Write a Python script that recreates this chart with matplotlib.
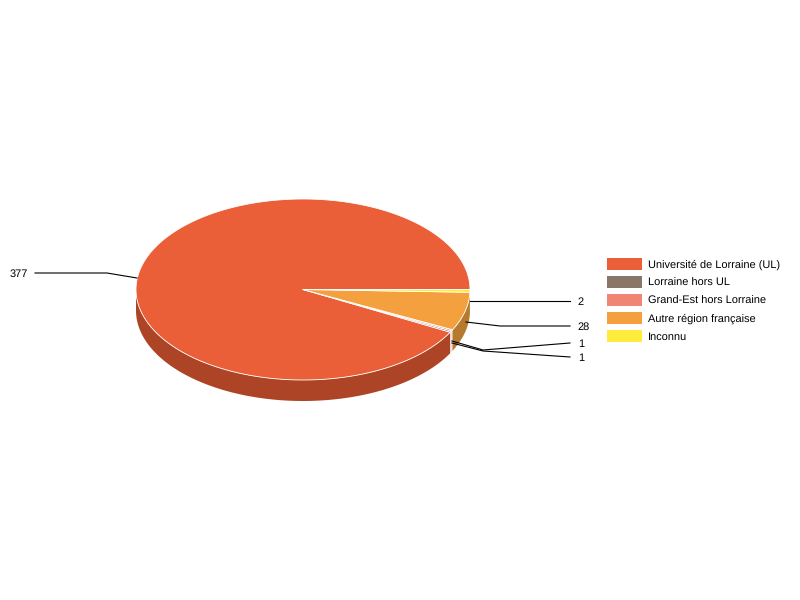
import numpy as np
import matplotlib
matplotlib.use("Agg")
import matplotlib.pyplot as plt
from matplotlib.patches import Polygon, Rectangle

categories = ["Université de Lorraine (UL)", "Lorraine hors UL", "Grand-Est hors Lorraine",
              "Autre région française", "Inconnu"]
values = [377, 1, 1, 28, 2]
colors = ["#EA5E38", "#8A7667", "#F08576", "#F4A03F", "#FFEB3B"]
side_colors = ["#AE4426", "#E6DCD6", "#F3D3CC", "#B57A2E", "#C0B02C"]

CX, CY, RX, RY, DEPTH = 303.0, 289.5, 167.0, 90.5, 21.0

plt.rcParams["font.family"] = ["Liberation Sans", "DejaVu Sans"]
plt.rcParams["text.hinting"] = "none"
plt.rcParams["text.hinting_factor"] = 1

fig = plt.figure(figsize=(8, 6), dpi=100)
ax = fig.add_axes([0, 0, 1, 1])
ax.set_xlim(0, 800)
ax.set_ylim(600, 0)
ax.axis("off")

def pt(deg, dy=0.0):
    t = np.radians(deg)
    return CX + RX * np.cos(t), CY - RY * np.sin(t) + dy

def arc(a, b, dy=0.0):
    t = np.linspace(a, b, max(int(abs(b - a) * 2), 2))
    return np.column_stack(pt(t, dy))

total = sum(values)
edges = np.concatenate([[0.0], np.cumsum(values) / total * 360.0])

# side walls: only the front half (180..360 deg) is visible
for i, (a, b) in enumerate(zip(edges[:-1], edges[1:])):
    lo, hi = max(a, 180.0), min(b, 360.0)
    if hi <= lo:
        continue
    top = arc(lo, hi)
    bottom = arc(lo, hi, DEPTH)[::-1]
    ax.add_patch(Polygon(np.vstack([top, bottom]), closed=True, fc=side_colors[i],
                         ec="none", zorder=2))

# top faces
for i, (a, b) in enumerate(zip(edges[:-1], edges[1:])):
    poly = np.vstack([[CX, CY], arc(a, b)])
    ax.add_patch(Polygon(poly, closed=True, fc=colors[i], ec="white", lw=0.6,
                         joinstyle="round", zorder=4))

# leader lines and value labels
label_pos = [(19, 277), (581, 347), (581, 361), (584, 330), (581, 305)]
anchors = [(137, 278), (452, 341), (452, 343), (466, 322), (470, 301)]
elbows = [(107, 273), (483, 350), (483, 351), (500, 326), (500, 301)]
ends = [(35, 273), (570, 343), (570, 357), (570, 326), (570, 301)]
for v, lp, an, el, en in zip(values, label_pos, anchors, elbows, ends):
    ax.plot([an[0], el[0], en[0]], [an[1], el[1], en[1]], color="black", lw=0.8,
            solid_joinstyle="miter", zorder=5)
    ax.text(lp[0], lp[1], str(v), ha="center", va="baseline", fontsize=8, color="black", zorder=6)

# legend
for i, (c, col) in enumerate(zip(categories, colors)):
    y = 258 + i * 18
    ax.add_patch(Rectangle((607, y), 35, 12, fc=col, ec="none", zorder=2))
    ax.text(648, y + 10, c, ha="left", va="baseline", fontsize=7.9, color="black")

fig.savefig("out.png", dpi=100, facecolor="white")
